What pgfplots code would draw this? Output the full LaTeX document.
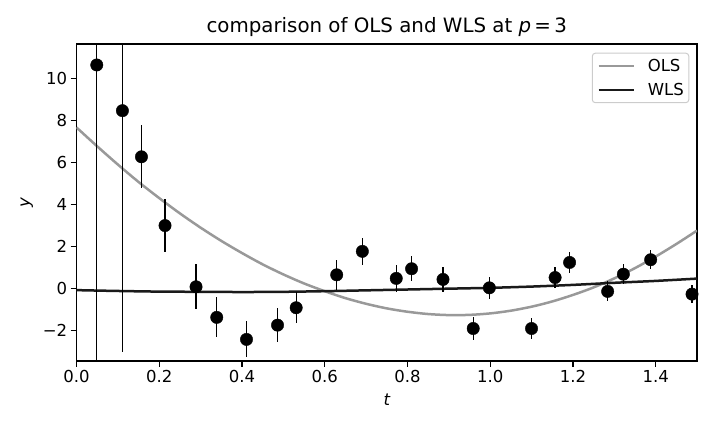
\documentclass[border=0pt]{standalone}
\usepackage{pgfplots}
\pgfplotsset{compat=1.18}
\usepackage{pgfplotstable}
\usepackage{fontspec}
\setmainfont{DejaVu Sans}
\definecolor{olsgray}{HTML}{999999}
\definecolor{wlsblack}{HTML}{1A1A1A}
\definecolor{legframe}{HTML}{CCCCCC}
\pgfplotstableread{
t y e
0.049 10.66 15
0.111 8.48 11.5
0.157 6.28 1.5
0.214 3.00 1.25
0.289 0.08 1.08
0.339 -1.38 0.95
0.411 -2.43 0.86
0.486 -1.75 0.80
0.531 -0.92 0.73
0.629 0.65 0.73
0.691 1.77 0.66
0.773 0.48 0.63
0.810 0.94 0.60
0.886 0.43 0.60
0.959 -1.91 0.55
0.998 0.03 0.53
1.100 -1.91 0.52
1.157 0.52 0.48
1.192 1.24 0.48
1.284 -0.14 0.48
1.322 0.68 0.48
1.388 1.37 0.46
1.488 -0.27 0.44
}\pts
\pgfplotstableread{
t y
0.00 7.68
0.05 6.78
0.10 5.91
0.15 5.08
0.20 4.31
0.25 3.58
0.30 2.90
0.35 2.27
0.40 1.69
0.45 1.15
0.50 0.67
0.55 0.24
0.60 -0.13
0.65 -0.46
0.70 -0.73
0.75 -0.95
0.80 -1.11
0.85 -1.22
0.90 -1.27
0.95 -1.26
1.00 -1.19
1.05 -1.06
1.10 -0.87
1.15 -0.62
1.20 -0.31
1.25 0.05
1.30 0.48
1.35 0.97
1.40 1.52
1.45 2.12
1.50 2.76
}\ols
\pgfplotstableread{
t y
0.0 -0.08
0.1 -0.12
0.2 -0.15
0.3 -0.16
0.4 -0.17
0.5 -0.16
0.6 -0.13
0.7 -0.09
0.8 -0.05
0.9 -0.01
1.0 0.03
1.1 0.09
1.2 0.17
1.3 0.27
1.4 0.36
1.5 0.47
}\wls
\begin{document}
\begin{tikzpicture}
\useasboundingbox (-76.5pt,-68pt) rectangle (639.5pt,361pt);
\begin{axis}[
  at={(0,0)}, anchor=south west,
  scale only axis,
  width=620.5pt, height=317pt,
  xmin=0, xmax=1.5, ymin=-3.46, ymax=11.66,
  xtick={0,0.2,0.4,0.6,0.8,1.0,1.2,1.4},
  xticklabels={0.0,0.2,0.4,0.6,0.8,1.0,1.2,1.4},
  ytick={-2,0,2,4,6,8,10},
  yticklabels={−2,0,2,4,6,8,10},
  tick align=outside,
  xtick pos=bottom, ytick pos=left,
  major tick length=5.8pt,
  tick style={line width=1.3pt, black},
  axis line style={line width=1.3pt, black},
  ticklabel style={font=\fontsize{16.5}{18}\selectfont},
  /pgf/number format/assume math mode=true,
  xlabel={\itshape t},
  ylabel={\itshape y},
  xlabel style={yshift=-4pt},
  ylabel style={yshift=3pt},
  label style={font=\fontsize{16.5}{18}\selectfont},
  title={comparison of OLS and WLS at {\itshape p}\,=\,3},
  title style={font=\fontsize{19.8}{22}\selectfont, yshift=-2pt},
  legend style={
    at={(1,1)}, anchor=north east, xshift=-7.7pt, yshift=-8.7pt,
    draw=legframe, line width=1pt, rounded corners=3pt, fill=white,
    font=\fontsize{16.5}{18}\selectfont,
    inner xsep=4pt, inner ysep=5pt,
    row sep=8pt,
    nodes={inner sep=1pt},
  },
  legend cell align=left,
  legend image code/.code={\draw[#1] (0pt,0pt) -- (35pt,0pt); \path (-1pt,0pt) (47pt,0pt);},
]
\addplot[olsgray, line width=2.5pt, smooth, no markers] table[x=t,y=y]{\ols};
\addlegendentry{OLS}
\addplot[wlsblack, line width=2.5pt, smooth, no markers] table[x=t,y=y]{\wls};
\addlegendentry{WLS}
\addplot[only marks, mark=*, mark size=6.2pt, black,
  error bars/.cd, y dir=both, y explicit,
  error bar style={line width=1.3pt, black},
  error mark=none]
  table[x=t, y=y, y error=e]{\pts};
\end{axis}
\end{tikzpicture}
\end{document}
